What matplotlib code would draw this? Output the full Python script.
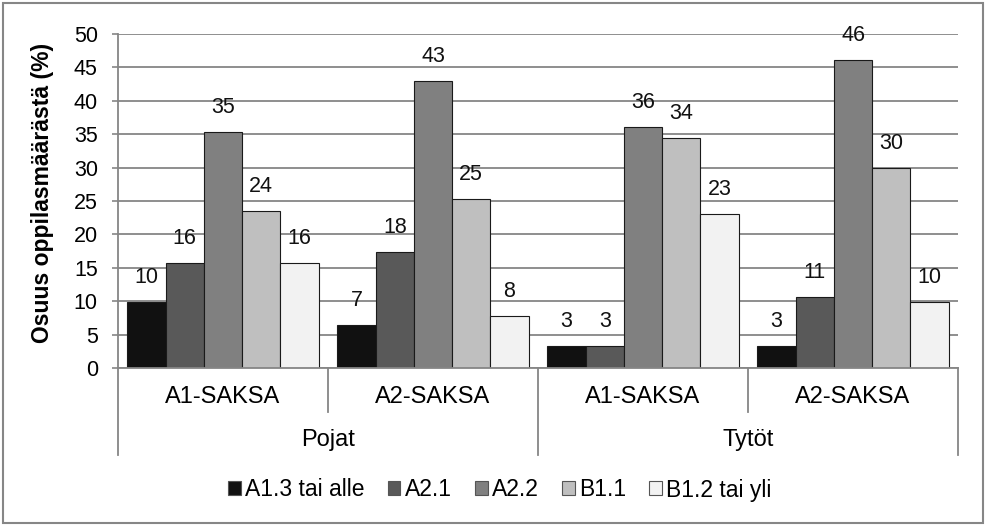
import numpy as np
import matplotlib
matplotlib.use("Agg")
import matplotlib.pyplot as plt
import matplotlib.patches as mpatches

plt.rcParams['font.family'] = ['Liberation Sans', 'DejaVu Sans']

# data
inner_labels = ["A1-SAKSA", "A2-SAKSA", "A1-SAKSA", "A2-SAKSA"]
outer_labels = ["Pojat", "Tytöt"]
series_names = ["A1.3 tai alle", "A2.1", "A2.2", "B1.1", "B1.2 tai yli"]
a13 = [9.9, 6.5, 3.3, 3.3]
a21 = [15.7, 17.4, 3.3, 10.6]
a22 = [35.3, 43.0, 36.1, 46.1]
b11 = [23.5, 25.3, 34.4, 29.9]
b12 = [15.7, 7.8, 23.0, 9.9]
shown = [[10, 7, 3, 3], [16, 18, 3, 11], [35, 43, 36, 46], [24, 25, 34, 30], [16, 8, 23, 10]]
colors = ["#111111", "#595959", "#808080", "#bfbfbf", "#f2f2f2"]

series = [a13, a21, a22, b11, b12]

fig = plt.figure(figsize=(9.86, 5.26), dpi=100)
ax = fig.add_axes([118 / 986, 1 - 368 / 526, 840 / 986, 334 / 526])

x = np.arange(len(inner_labels))
w = 0.182
for i, vals in enumerate(series):
    pos = x + (i - 2) * w
    ax.bar(pos, vals, width=w, color=colors[i], edgecolor="#1a1a1a",
           linewidth=0.8, label=series_names[i], zorder=3)
    for p, v, s in zip(pos, vals, shown[i]):
        ax.annotate(str(s), (p, v), xytext=(0, 10), textcoords="offset points",
                    ha="center", va="bottom", fontsize=15.5, color="#111111")

ax.set_xlim(-0.5, 3.5)
ax.set_ylim(0, 50)
ax.set_yticks(range(0, 51, 5))
ax.tick_params(axis="y", length=4.5, width=1.2, color="#868686", pad=10, labelsize=15.5)
ax.set_xticks([])
ax.grid(axis="y", color="#868686", linewidth=1.3, zorder=0)
for s in ["top", "right"]:
    ax.spines[s].set_visible(False)
ax.spines["left"].set_color("#868686")
ax.spines["left"].set_linewidth(1.3)
ax.spines["bottom"].set_color("#868686")
ax.spines["bottom"].set_linewidth(1.3)
ax.spines["bottom"].set_zorder(4)

# two-level category axis
tr = ax.get_xaxis_transform()
short = -44 / 334
long_ = -87 / 334
for xb, depth in zip([-0.5, 0.5, 1.5, 2.5, 3.5], [long_, short, long_, short, long_]):
    ax.plot([xb, xb], [0, depth], transform=tr, color="#868686", lw=1.3, clip_on=False)
for xi, lab in zip(x, inner_labels):
    ax.text(xi, -29 / 334, lab, transform=tr, ha="center", va="center", fontsize=17)
for k, lab in enumerate(outer_labels):
    ax.text(2 * k + 0.5, -72 / 334, lab, transform=tr, ha="center", va="center", fontsize=17)

fig.text(43 / 986, 1 - 193 / 526, "Osuus oppilasmäärästä (%)", rotation=90,
         ha="center", va="center", fontsize=16.5, fontweight="bold")

handles = [mpatches.Patch(facecolor=c, edgecolor="#555555", linewidth=0.8) for c in colors]
fig.legend(handles, series_names, loc="center", bbox_to_anchor=(500 / 986, 1 - 490 / 526),
           ncol=5, frameon=False, fontsize=16.5, handlelength=0.55, handleheight=0.55,
           handletextpad=0.2, columnspacing=1.0)

fig.add_artist(mpatches.Rectangle((3 / 986, 3 / 526), 980 / 986, 520 / 526,
                                  transform=fig.transFigure, fill=False,
                                  edgecolor="#868686", linewidth=1.5))

fig.savefig("out.png", dpi=100)
